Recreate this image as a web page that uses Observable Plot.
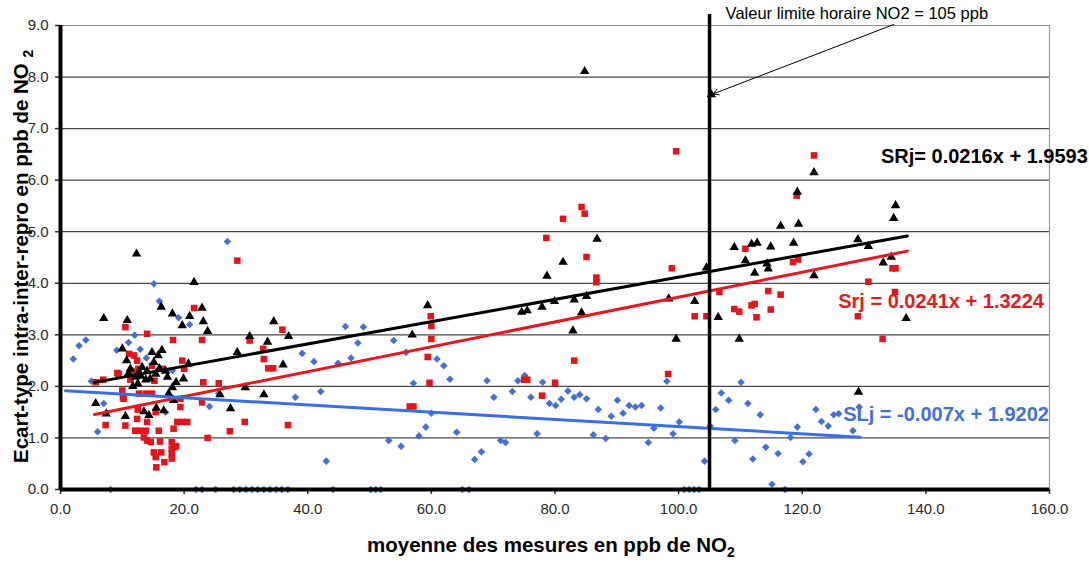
<!DOCTYPE html>
<html>
<head>
<meta charset="utf-8">
<script src="https://cdn.jsdelivr.net/npm/d3@7"></script>
<script src="https://cdn.jsdelivr.net/npm/@observablehq/plot@0.6"></script>
<style>
  html, body { margin: 0; padding: 0; background: #fff; }
  svg { display: block; }
</style>
</head>
<body>
<div id="chart"></div>
<script>
// SRj : écart-type de reproductibilité (triangles noirs) — [moyenne NO2, écart-type]
const sRjPoints = [
  [5.7,1.67],[7.0,3.32],[7.4,1.47],[10.0,2.73],[10.5,1.42],[10.7,2.50],[10.8,3.28],[11.0,2.25],
  [11.3,2.34],[11.7,2.00],[12.1,2.18],[12.3,4.57],[12.5,2.05],[12.7,2.28],[13.0,2.20],[13.2,2.37],
  [13.5,1.51],[13.8,2.13],[14.0,2.30],[14.3,1.44],[14.5,2.15],[14.8,2.66],[15.1,2.47],[15.4,2.24],
  [15.5,1.58],[15.8,2.60],[16.0,2.35],[16.3,3.54],[16.4,2.70],[16.7,1.53],[17.0,2.30],[17.3,2.18],
  [17.5,1.86],[18.1,3.41],[18.1,1.98],[18.3,1.73],[18.7,2.08],[19.7,3.18],[19.9,2.15],[20.7,2.44],
  [20.9,3.36],[21.6,4.02],[22.9,3.52],[23.1,3.26],[23.8,3.07],[25.8,1.84],[27.5,1.57],[28.6,2.66],
  [29.9,1.98],[30.6,2.97],[32.9,1.84],[33.5,2.86],[34.5,3.26],[36.0,2.42],[36.9,2.97],
  [56.9,3.00],[59.4,3.57],[74.6,3.44],[75.5,3.47],[77.9,3.54],[78.7,4.14],[79.9,3.65],[81.3,4.41],
  [82.9,3.08],[83.1,3.68],[84.3,3.43],[84.8,8.11],[85.1,3.75],[86.8,4.86],[98.4,3.70],[99.6,2.92],
  [102.6,3.65],[104.5,4.30],[105.3,7.66],[106.4,3.34],[109.0,4.70],[109.8,2.92],[110.8,4.44],
  [111.8,4.76],[112.3,4.20],[112.7,4.78],[114.3,4.38],[114.5,4.28],[114.9,4.71],[116.5,5.11],
  [118.6,4.78],[119.2,5.77],[119.4,5.15],[121.9,6.15],[121.9,4.15],[129.0,4.85],[129.1,1.89],
  [130.7,4.72],[133.1,4.40],[134.4,4.51],[134.8,5.26],[135.1,5.51],[136.8,3.32]
];

// Srj : écart-type de répétabilité (carrés rouges)
const srjPoints = [
  [5.7,2.08],[6.9,2.13],[7.3,1.25],[9.2,2.26],[9.4,2.24],[10.0,1.92],[10.1,1.79],[10.2,1.76],
  [10.5,3.15],[10.5,1.24],[11.1,2.63],[11.3,2.13],[11.5,2.30],[11.9,2.60],[12.1,1.14],[12.4,2.50],
  [12.4,1.37],[12.5,1.55],[12.6,2.34],[12.7,1.86],[12.9,1.14],[13.5,1.01],[13.8,1.14],[13.8,1.86],
  [14.0,3.02],[14.0,1.31],[14.0,0.95],[14.6,0.92],[14.8,2.40],[14.8,1.86],[15.1,0.72],[15.2,2.11],
  [15.4,1.50],[15.4,0.63],[15.5,0.43],[15.9,1.14],[16.1,0.93],[16.3,0.72],[16.5,2.34],[16.8,0.53],
  [18.0,0.92],[18.0,0.79],[18.0,0.60],[18.0,0.70],[18.2,2.90],[18.3,1.18],[18.4,0.82],[18.7,0.84],
  [18.9,1.31],[19.4,1.60],[19.4,1.76],[19.7,1.31],[19.7,2.50],[20.0,2.34],[20.5,1.31],[21.6,3.52],
  [22.9,2.90],[22.9,1.69],[23.1,2.08],[23.8,1.00],[25.6,2.06],[27.4,1.13],[28.6,4.44],[29.8,1.31],
  [30.6,2.89],[32.8,2.73],[32.9,2.53],[33.6,2.35],[34.4,2.35],[35.9,3.10],[36.8,1.25],
  [56.5,1.61],[57.1,1.61],[59.4,2.57],[59.7,2.07],[59.9,3.36],[60.0,3.17],[60.0,2.92],[75.0,2.13],
  [75.5,2.13],[77.9,1.82],[78.6,4.88],[80.0,2.07],[81.3,5.25],[83.1,2.50],[84.3,5.48],[84.8,5.35],
  [85.1,4.51],[86.7,4.11],[86.7,4.02],[98.3,2.24],[98.9,4.29],[99.6,6.56],[102.6,3.36],[104.5,3.36],
  [106.6,3.83],[109.0,3.50],[109.8,3.45],[110.8,4.67],[111.8,3.57],[112.3,3.60],[112.6,3.34],
  [114.5,3.85],[114.9,3.49],[116.5,3.78],[118.5,4.41],[119.1,5.70],[119.3,4.46],[121.9,6.48],
  [129.0,3.36],[130.7,4.03],[133.0,2.92],[134.6,4.29],[135.1,4.29],[135.0,3.83]
];

// SLj : écart-type inter-laboratoire (losanges bleus)
const sLjPoints = [
  [2.05,2.53],[3.0,2.79],[4.1,2.90],[5.0,2.10],[6.0,1.12],[7.0,1.67],[8.1,0],[9.1,2.70],
  [11.0,2.85],[12.0,2.99],[12.9,2.72],[13.9,2.55],[15.1,3.99],[16.0,3.65],[17.0,1.50],[18.1,2.31],
  [19.1,3.33],[20.9,3.20],[21.9,0],[22.9,0],[24.1,1.61],[25.1,0],[25.6,1.86],[27.0,4.81],
  [28.0,0],[29.0,0],[30.0,0],[31.0,0],[31.9,0],[32.9,0],[33.9,0],[34.9,0],[35.8,0],[36.8,0],
  [38.0,1.79],[39.1,2.64],[41.0,2.48],[42.1,1.90],[43.0,0.55],[44.1,0],[44.9,2.45],[46.1,3.16],
  [47.0,2.55],[48.1,2.84],[49.0,3.15],[50.2,0],[51.0,0],[51.8,0],[53.1,0.95],[53.9,2.89],
  [55.1,0.84],[55.9,2.66],[57.1,2.06],[58.0,1.04],[59.1,1.21],[60.0,1.48],[60.9,2.53],[62.0,2.40],
  [63.0,2.14],[64.1,1.11],[65.0,0],[66.1,0],[67.0,0.58],[68.1,0.73],[69.0,2.11],[70.1,1.79],
  [71.2,0.95],[72.0,0.91],[73.1,1.90],[74.0,2.11],[75.1,2.21],[76.1,1.79],[77.1,1.08],[78.0,2.08],
  [79.1,1.67],[80.1,1.63],[81.0,1.75],[82.1,1.91],[83.1,1.79],[84.0,1.84],[85.1,1.76],[86.2,1.06],
  [87.0,1.55],[88.2,0.99],[89.1,1.42],[90.1,1.73],[91.0,1.48],[92.0,1.63],[93.0,1.60],[94.0,1.63],
  [95.1,0.91],[96.0,1.19],[97.1,1.58],[98.1,2.10],[99.1,1.08],[100.1,1.31],[100.9,0],[101.7,0],
  [102.5,0],[103.3,0],[104.2,0.55],[105.1,1.23],[106.0,1.55],[106.9,1.87],[108.1,1.73],[109.1,0.95],
  [110.1,2.08],[111.2,1.67],[112.0,0.59],[113.2,1.45],[114.1,0.82],[115.1,0.10],[116.1,0.70],
  [117.2,0],[118.1,1.01],[119.2,1.21],[120.1,0.54],[121.1,0.69],[122.2,1.55],[123.1,1.32],
  [124.2,1.23],[125.1,1.45],[125.9,1.47],[128.2,1.14],[129.2,1.60]
];

// Droites de tendance linéaires : y = pente * x + ordonnée, tracées sur [début, fin]
const fitNames      = ["SRj", "Srj", "SLj"];
const fitSlopes     = [0.0216, 0.0241, -0.007];
const fitIntercepts = [1.9593, 1.3224, 1.9202];
const fitStart      = [5.5, 5.5, 0.8];
const fitEnd        = [137.0, 137.0, 129.4];
const fitLabels     = ["SRj= 0.0216x + 1.9593", "Srj = 0.0241x + 1.3224", "SLj = -0.007x + 1.9202"];

// Valeur limite horaire
const limitValue = 105;
const limitText  = "Valeur limite horaire NO2 = 105 ppb";

const xTicks = [0, 20, 40, 60, 80, 100, 120, 140, 160];
const yTicks = [0, 1, 2, 3, 4, 5, 6, 7, 8, 9];

// ---- styles ----
const font = "'Liberation Sans', Arial, Helvetica, sans-serif";
const lineColors  = ["#000000", "#e5181f", "#3a6ee6"];
const labelColors = ["#000000", "#e01c22", "#4370da"];
// positions des étiquettes d'équation (unités des axes, ancrées à droite)
const labelAnchors = [[166.2, 6.34], [159.1, 3.53], [159.9, 1.32]];

const fx = d => d[0], fy = d => d[1];

const trendMarks = fitNames.map((name, i) => {
  const ends = [fitStart[i], fitEnd[i]].map(x => ({x, y: fitSlopes[i] * x + fitIntercepts[i]}));
  return Plot.line(ends, {x: "x", y: "y", stroke: lineColors[i], strokeWidth: 3});
});

const labelMarks = fitNames.map((name, i) =>
  Plot.text([fitLabels[i]], {
    x: labelAnchors[i][0], y: labelAnchors[i][1], text: d => d,
    textAnchor: "end", lineAnchor: "bottom",
    fontSize: 20, fontWeight: "bold", fill: labelColors[i]
  })
);

// point repéré par la flèche (triangle à la valeur limite)
const flagged = sRjPoints.filter(d => d[1] > 7.5 && d[0] > 100);

const chart = Plot.plot({
  width: 1089,
  height: 563,
  marginLeft: 60,
  marginRight: 40,
  marginTop: 25,
  marginBottom: 74,
  style: {fontFamily: font, background: "#fff", overflow: "visible"},
  x: {domain: [0, 160]},
  y: {domain: [0, 9]},
  marks: [
    Plot.ruleY(yTicks.filter(d => d > 0 && d < 9), {stroke: "#4a4a4a", strokeWidth: 1.2}),
    Plot.ruleY([9], {stroke: "#8a8a8a", strokeWidth: 1.2}),
    Plot.ruleX([160], {stroke: "#9a9a9a", strokeWidth: 1.2}),
    Plot.axisY({ticks: yTicks, tickFormat: d => d.toFixed(1), tickSize: 5, tickPadding: 7,
      label: null, fontSize: 15, color: "#2a2a2a", strokeWidth: 1.5}),
    Plot.axisX({ticks: xTicks, tickFormat: d => d.toFixed(1), tickSize: 5, tickPadding: 9,
      label: null, fontSize: 15, color: "#2a2a2a", strokeWidth: 1.5}),
    ...labelMarks,
    Plot.dot(sLjPoints, {x: fx, y: fy, symbol: "diamond2", r: 3.4, fill: "#4470d4", stroke: "none"}),
    Plot.dot(srjPoints, {x: fx, y: fy, symbol: "square", r: 3.7, fill: "#e3151c", stroke: "none"}),
    Plot.dot(sRjPoints, {x: fx, y: fy, symbol: "triangle", r: 3.5, fill: "#000", stroke: "none"}),
    ...trendMarks,
    Plot.ruleX([0], {stroke: "#000", strokeWidth: 4}),
    Plot.ruleY([0], {stroke: "#000", strokeWidth: 4}),
    Plot.ruleX([limitValue], {stroke: "#000", strokeWidth: 3.5, insetTop: -11}),
    Plot.arrow(flagged, {
      x1: 134.8, y1: 9.02, x2: fx, y2: fy, insetEnd: 2,
      stroke: "#000", strokeWidth: 1, headLength: 9
    }),
    Plot.text([limitText], {x: limitValue + 2.6, y: 9.12, text: d => d, textAnchor: "start",
      lineAnchor: "bottom", fontSize: 16.5, fill: "#000"})
  ]
});

document.getElementById("chart").append(chart);

// Titres des axes (avec indice pour NO2)
const svg = d3.select(chart);
const yTitle = svg.append("text")
  .attr("transform", "translate(28,463) rotate(-90)")
  .attr("text-anchor", "start")
  .attr("font-family", font).attr("font-size", 20.5).attr("font-weight", "bold").attr("fill", "#000");
yTitle.append("tspan").text("Ecart-type intra-inter-repro en ppb de NO ");
yTitle.append("tspan").attr("font-size", 14).attr("dy", 5).text("2");

const xTitle = svg.append("text")
  .attr("x", 367).attr("y", 552)
  .attr("text-anchor", "start")
  .attr("font-family", font).attr("font-size", 20.5).attr("font-weight", "bold").attr("fill", "#000");
xTitle.append("tspan").text("moyenne des mesures en ppb de NO");
xTitle.append("tspan").attr("font-size", 14).attr("dy", 5).text("2");
</script>
</body>
</html>
